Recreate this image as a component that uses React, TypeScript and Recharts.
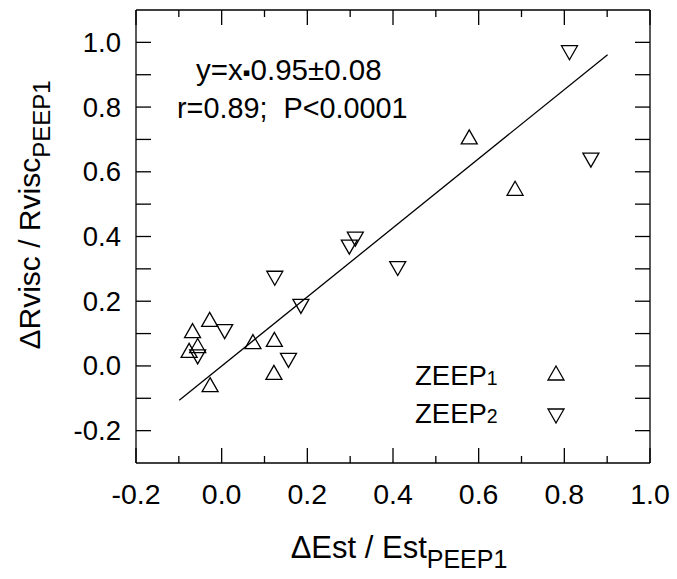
import React from 'react';
import { ComposedChart, Scatter, Line, XAxis, YAxis } from 'recharts';

// ZEEP1 (open up-triangles)
const zeep1X = [0.578, 0.685, -0.068, -0.028, -0.056, -0.076, 0.073, 0.123, 0.122, -0.027];
const zeep1Y = [0.708, 0.549, 0.109, 0.144, 0.063, 0.048, 0.075, 0.082, -0.02, -0.058];

// ZEEP2 (open down-triangles)
const zeep2X = [0.812, 0.862, 0.007, -0.056, 0.156, 0.185, 0.312, 0.298, 0.411, 0.124];
const zeep2Y = [0.968, 0.636, 0.106, 0.028, 0.017, 0.184, 0.392, 0.367, 0.301, 0.271];

// regression line end points
const fitX = [-0.099, 0.901];
const fitY = [-0.106, 0.962];

const xTicks = [-0.2, -0.1, 0, 0.1, 0.2, 0.3, 0.4, 0.5, 0.6, 0.7, 0.8, 0.9, 1.0];
const yTicks = [-0.2, -0.1, 0, 0.1, 0.2, 0.3, 0.4, 0.5, 0.6, 0.7, 0.8, 0.9, 1.0];

const FONT = '"Liberation Sans", Arial, sans-serif';
const INK = '#000';

const zeep1 = zeep1X.map((x, i) => ({ x, y: zeep1Y[i] }));
const zeep2 = zeep2X.map((x, i) => ({ x, y: zeep2Y[i] }));
const fit = fitX.map((x, i) => ({ x, y: fitY[i] }));

const isMajor = (v: number) => Math.round(v * 10) % 2 === 0;

const triPath = (cx: number, cy: number, up: boolean) => {
  const w = 8;
  const h = 7;
  return up
    ? `M${cx},${cy - h}L${cx + w},${cy + h}L${cx - w},${cy + h}Z`
    : `M${cx},${cy + h}L${cx + w},${cy - h}L${cx - w},${cy - h}Z`;
};

const UpTri = (p: any) => (
  <path d={triPath(p.cx, p.cy, true)} fill="none" stroke={INK} strokeWidth={1.3} />
);
const DownTri = (p: any) => (
  <path d={triPath(p.cx, p.cy, false)} fill="none" stroke={INK} strokeWidth={1.3} />
);

const BottomTick = (p: any) => {
  const { x, y, payload } = p;
  const v = payload.value;
  const major = isMajor(v);
  return (
    <g>
      <line x1={x} y1={y} x2={x} y2={y - (major ? 15 : 7)} stroke={INK} strokeWidth={1.3} />
      {major && (
        <text x={x} y={y + 41} textAnchor="middle" fontSize={28.5} fontFamily={FONT} fill={INK}>
          {v.toFixed(1)}
        </text>
      )}
    </g>
  );
};

const TopTick = (p: any) => {
  const { x, y, payload } = p;
  const major = isMajor(payload.value);
  return <line x1={x} y1={y} x2={x} y2={y + (major ? 15 : 7)} stroke={INK} strokeWidth={1.3} />;
};

const LeftTick = (p: any) => {
  const { x, y, payload } = p;
  const v = payload.value;
  return (
    <g>
      <line x1={x} y1={y} x2={x + 15} y2={y} stroke={INK} strokeWidth={1.3} />
      {isMajor(v) && (
        <text x={x - 15} y={y + 9.5} textAnchor="end" fontSize={27.5} fontFamily={FONT} fill={INK}>
          {v.toFixed(1)}
        </text>
      )}
    </g>
  );
};

const RightTick = (p: any) => {
  const { x, y } = p;
  return <line x1={x} y1={y} x2={x - 15} y2={y} stroke={INK} strokeWidth={1.3} />;
};

export default function App() {
  return (
    <div style={{ width: 677, height: 579, overflow: 'hidden', background: '#fff' }}>
      <style>{'body{margin:0}'}</style>
      <ComposedChart width={677} height={579} margin={{ top: 9, right: 26, left: 0, bottom: 0 }}>
        <XAxis
          xAxisId="b"
          dataKey="x"
          type="number"
          orientation="bottom"
          domain={[-0.2, 1.0]}
          ticks={xTicks}
          interval={0}
          height={116}
          tickSize={0}
          tickMargin={0}
          tickLine={false}
          axisLine={{ stroke: INK, strokeWidth: 1.3 }}
          tick={<BottomTick />}
          allowDataOverflow
        />
        <XAxis
          xAxisId="t"
          dataKey="x"
          type="number"
          orientation="top"
          domain={[-0.2, 1.0]}
          ticks={xTicks}
          interval={0}
          height={1}
          tickSize={0}
          tickMargin={0}
          tickLine={false}
          axisLine={{ stroke: INK, strokeWidth: 1.3 }}
          tick={<TopTick />}
          allowDataOverflow
        />
        <YAxis
          yAxisId="l"
          dataKey="y"
          type="number"
          orientation="left"
          domain={[-0.3, 1.1]}
          ticks={yTicks}
          interval={0}
          width={136}
          tickSize={0}
          tickMargin={0}
          tickLine={false}
          axisLine={{ stroke: INK, strokeWidth: 1.3 }}
          tick={<LeftTick />}
          allowDataOverflow
        />
        <YAxis
          yAxisId="r"
          dataKey="y"
          type="number"
          orientation="right"
          domain={[-0.3, 1.1]}
          ticks={yTicks}
          interval={0}
          width={1}
          tickSize={0}
          tickMargin={0}
          tickLine={false}
          axisLine={{ stroke: INK, strokeWidth: 1.3 }}
          tick={<RightTick />}
          allowDataOverflow
        />
        <Line
          xAxisId="b"
          yAxisId="l"
          data={fit}
          dataKey="y"
          type="linear"
          stroke={INK}
          strokeWidth={1.3}
          dot={false}
          activeDot={false}
          isAnimationActive={false}
        />
        <Scatter xAxisId="b" yAxisId="l" data={zeep1} dataKey="y" shape={UpTri} isAnimationActive={false} />
        <Scatter xAxisId="b" yAxisId="l" data={zeep2} dataKey="y" shape={DownTri} isAnimationActive={false} />

        {/* annotations */}
        <text x={196} y={80} fontSize={29.5} fontFamily={FONT} fill={INK}>
          y=x<tspan fontSize={22}>▪</tspan>0.95±0.08
        </text>
        <text x={177} y={118} fontSize={28.8} fontFamily={FONT} fill={INK} style={{ whiteSpace: 'pre' }}>
          {'r=0.89;  P<0.0001'}
        </text>

        {/* legend */}
        <text x={415} y={385} fontSize={27.5} fontFamily={FONT} fill={INK}>
          ZEEP<tspan fontSize={19.5}>1</tspan>
        </text>
        <path d={triPath(556, 373, true)} fill="none" stroke={INK} strokeWidth={1.3} />
        <text x={415} y={423} fontSize={27.5} fontFamily={FONT} fill={INK}>
          ZEEP<tspan fontSize={19.5}>2</tspan>
        </text>
        <path d={triPath(556, 416, false)} fill="none" stroke={INK} strokeWidth={1.3} />

        {/* axis titles */}
        <text x={399} y={558} textAnchor="middle" fontSize={31} fontFamily={FONT} fill={INK}>
          ΔEst / Est<tspan fontSize={25} dy={10}>PEEP1</tspan>
        </text>
        <text
          x={40}
          y={215}
          textAnchor="middle"
          fontSize={30}
          fontFamily={FONT}
          fill={INK}
          transform="rotate(-90 40 215)"
        >
          ΔRvisc / Rvisc<tspan fontSize={24} dy={10}>PEEP1</tspan>
        </text>
      </ComposedChart>
    </div>
  );
}
